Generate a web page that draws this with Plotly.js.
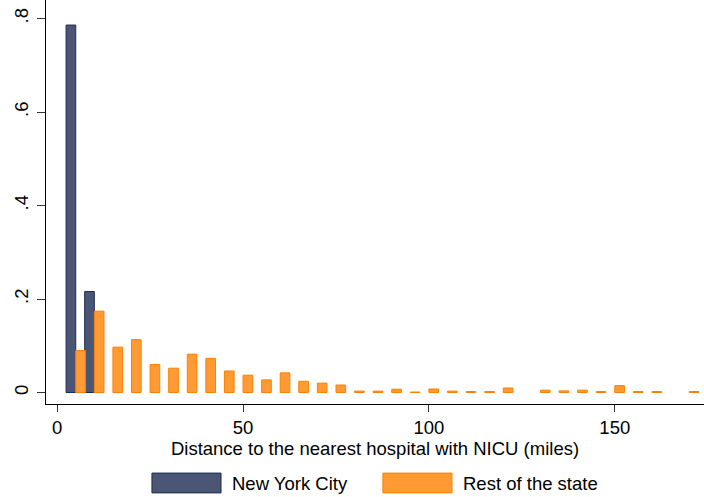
<!DOCTYPE html>
<html>
<head>
<meta charset="utf-8">
<script src="https://cdn.plot.ly/plotly-3.0.1.min.js"></script>
<style>html,body{margin:0;padding:0;background:#fff;}#chart{width:704px;height:497px;}</style>
</head>
<body>
<div id="chart"></div>
<script>
// Bin centres (miles)
var bins = [5,10,15,20,25,30,35,40,45,50,55,60,65,70,75,80,85,90,95,100,105,110,115,120,125,130,135,140,145,150,155,160,165,170];
// Share of births, New York City
var nycValues = [0.786,0.216,null,null,null,null,null,null,null,null,null,null,null,null,null,null,null,null,null,null,null,null,null,null,null,null,null,null,null,null,null,null,null,null];
// Share of births, rest of the state
var restValues = [0.090,0.174,0.097,0.113,0.060,0.052,0.082,0.073,0.046,0.037,0.027,0.042,0.024,0.020,0.016,0.003,0.003,0.007,0.001,0.0075,0.003,0.002,0.002,0.0096,null,0.005,0.0035,0.005,0.002,0.0146,0.002,0.002,null,0.002];
var seriesNames = ["New York City", "Rest of the state"];
var yTickVals = [0, 0.2, 0.4, 0.6, 0.8];
var yTickText = ["0", ".2", ".4", ".6", ".8"];
var xTickVals = [0, 50, 100, 150];
var xTitle = "Distance to the nearest hospital with NICU (miles)";

var nycFill = "#4b5675", nycLine = "#1e2c55";
var restFill = "#ff9a35", restLine = "#ff8000";

var traces = [
  {type: "bar", x: bins, y: nycValues, name: seriesNames[0], width: 2.6, offset: -2.6,
   marker: {color: nycFill, line: {color: nycLine, width: 1}}, showlegend: false},
  {type: "bar", x: bins, y: restValues, name: seriesNames[1], width: 2.6, offset: 0,
   marker: {color: restFill, line: {color: restLine, width: 1}}, showlegend: false}
];

var font = "Liberation Sans, Arial, sans-serif";
var fs = 18.5;
var layout = {
  width: 704, height: 497,
  margin: {l: 46, r: 0, t: 0, b: 93, pad: 0},
  paper_bgcolor: "#fff", plot_bgcolor: "#fff",
  barmode: "overlay",
  showlegend: false,
  font: {family: font, size: fs, color: "#000"},
  xaxis: {
    range: [-3, 174], tickvals: xTickVals, ticks: "outside", ticklen: 7, tickcolor: "#333",
    showline: true, linecolor: "#000", linewidth: 1, showgrid: false, zeroline: false,
    tickfont: {family: font, size: fs, color: "#000"},
    title: {text: xTitle, font: {family: font, size: fs, color: "#000"}, standoff: 2}
  },
  yaxis: {
    range: [-0.0246, 0.8396], tickvals: yTickVals, ticktext: yTickText, tickangle: -90,
    ticks: "outside", ticklen: 8, tickcolor: "#333", ticklabelstandoff: 2,
    showline: true, linecolor: "#000", linewidth: 1, showgrid: false, zeroline: false,
    tickfont: {family: font, size: fs, color: "#000"}
  },
  shapes: [
    {type: "rect", xref: "paper", yref: "paper", x0: 0.161, x1: 0.266, y0: -0.220, y1: -0.171,
     fillcolor: nycFill, line: {color: nycLine, width: 1}},
    {type: "rect", xref: "paper", yref: "paper", x0: 0.512, x1: 0.617, y0: -0.220, y1: -0.171,
     fillcolor: restFill, line: {color: restLine, width: 1}}
  ],
  annotations: [
    {xref: "paper", yref: "paper", x: 0.280, y: -0.196, xanchor: "left", yanchor: "middle",
     text: seriesNames[0], showarrow: false, font: {family: font, size: fs, color: "#000"}},
    {xref: "paper", yref: "paper", x: 0.631, y: -0.196, xanchor: "left", yanchor: "middle",
     text: seriesNames[1], showarrow: false, font: {family: font, size: fs, color: "#000"}}
  ]
};

Plotly.newPlot("chart", traces, layout, {displayModeBar: false, staticPlot: true});
</script>
</body>
</html>
